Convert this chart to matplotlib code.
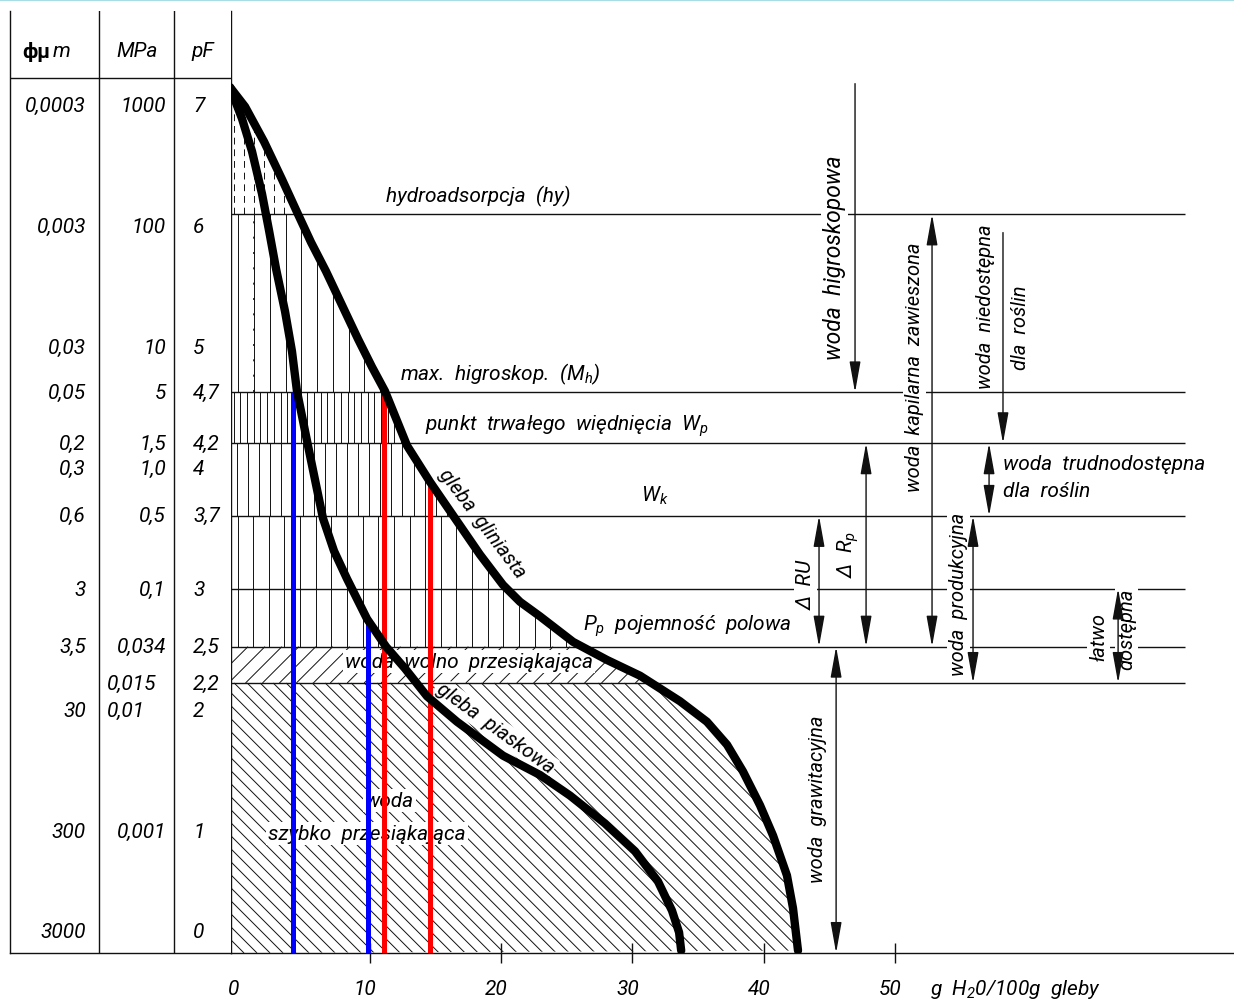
import numpy as np
import matplotlib.pyplot as plt
from matplotlib.patches import Polygon, FancyArrowPatch
from matplotlib.collections import LineCollection
from matplotlib.lines import Line2D
from matplotlib.transforms import ScaledTranslation

FONT = ['Roboto', 'DejaVu Sans']
plt.rcParams['font.family'] = FONT
plt.rcParams['font.style'] = 'italic'
plt.rcParams['mathtext.fontset'] = 'custom'
plt.rcParams['mathtext.it'] = 'Roboto:italic'
plt.rcParams['mathtext.rm'] = 'Roboto:italic'

# ---- dane: krzywe pF (x = g H2O / 100 g gleby) ----
clay_x = [-0.62, 0.52, 1.97, 3.33, 4.47, 5.54, 6.68, 7.90, 9.12, 10.18, 11.17,
          12.85, 14.60, 16.88, 18.40, 20.15, 21.45, 22.97, 25.48, 28.07, 30.58,
          31.88, 33.61, 35.67, 37.20, 38.41, 39.71, 40.70, 41.76, 42.22, 42.60]
clay_pf = [7.15, 6.99, 6.70, 6.39, 6.12, 5.87, 5.63, 5.35, 5.07, 4.84, 4.64,
           4.19, 3.89, 3.53, 3.29, 3.04, 2.90, 2.78, 2.57, 2.42, 2.29,
           2.20, 2.08, 1.91, 1.72, 1.50, 1.22, 0.97, 0.64, 0.37, 0.02]
sand_x = [-0.62, 0.29, 1.05, 1.81, 2.34, 2.88, 3.56, 4.09, 4.47, 5.46, 6.45,
          7.29, 8.28, 9.80, 11.25, 12.69, 14.37, 16.65, 20.15, 22.97, 25.25,
          27.91, 30.20, 31.95, 33.01, 33.55, 33.71]
sand_pf = [7.15, 6.89, 6.62, 6.27, 5.97, 5.65, 5.30, 4.97, 4.64, 4.11, 3.59,
           3.32, 3.09, 2.76, 2.53, 2.35, 2.12, 1.91, 1.63, 1.47, 1.30,
           1.07, 0.84, 0.59, 0.35, 0.17, 0.02]

# poziomy charakterystyczne (pF, jak narysowane)
lvl_hy, lvl_mh, lvl_wp, lvl_wk, lvl_3, lvl_pp, lvl_22 = 6.10, 4.63, 4.21, 3.61, 3.01, 2.53, 2.23

# odczyty wilgotności
blue_x = [4.2, 9.9]
blue_top = [4.63, 2.76]
red_x = [11.1, 14.6]
red_top = [4.63, 3.89]

# tabela po lewej
row_pf = [7, 6, 5, 4.63, 4.21, 4, 3.61, 3.0, 2.53, 2.23, 2, 1, 0.18]
phi_labels = ['0,0003', '0,003', '0,03', '0,05', '0,2', '0,3', '0,6', '3', '3,5', '', '30', '300', '3000']
mpa_labels = ['1000', '100', '10', '5', '1,5', '1,0', '0,5', '0,1', '0,034', '0,015', '0,01', '0,001', '']
pf_labels = ['7', '6', '5', '4,7', '4,2', '4', '3,7', '3', '2,5', '2,2', '2', '1', '0']

# strzałki wymiarowe: x, od, do, obustronna
arr_x = [46.94, 52.80, 58.20, 57.14, 44.20, 47.78, 45.50, 55.92, 66.96]
arr_from = [7.18, 6.10, 5.95, 4.21, 3.61, 4.21, 2.53, 3.61, 3.01]
arr_to = [4.63, 2.53, 4.21, 3.61, 2.53, 2.53, 0.0, 2.23, 2.23]
arr_both = [False, True, False, True, True, True, True, True, True]

# ---- układ ----
W, H = 1234, 1003
X0, X1 = -0.55, 75.78
Y0, Y1 = 0.0, 7.78
AX_B, AX_H = 49 / H, 942 / H

fig = plt.figure(figsize=(W / 100, H / 100), dpi=100)
ax = fig.add_axes([231 / W, AX_B, (W - 231) / W, AX_H])
tab = fig.add_axes([10 / W, AX_B, 221 / W, AX_H], sharey=ax)
ax.set_xlim(X0, X1)
ax.set_ylim(Y0, Y1)
tab.set_xlim(0, 1)

FS = 14.5
ink = '#111111'

for a in (ax, tab):
    for s in ('top', 'right'):
        a.spines[s].set_visible(False)
    for s in ('left', 'bottom'):
        a.spines[s].set_linewidth(1.0)
        a.spines[s].set_color(ink)

# osie główne
ax.set_yticks([1, 2, 3, 4, 5, 6, 7])
ax.tick_params(axis='y', direction='out', length=10, width=1, labelleft=False, color=ink)
ax.set_xticks([0, 10, 20, 30, 40, 50])
ax.set_xticklabels(['0', '10', '20', '30', '40', '50'], fontsize=15)
ax.tick_params(axis='x', direction='inout', length=14, width=1, pad=12, color=ink)
ax.xaxis.get_major_ticks()[0].tick1line.set_visible(False)
shift = ScaledTranslation(-0.05, 0, fig.dpi_scale_trans)
for t in ax.get_xticklabels():
    t.set_transform(t.get_transform() + shift)
ax.text(52.65, -0.29, 'g  H$_2$0/100g  gleby', fontsize=15, va='center', ha='left', clip_on=False)

# tabela
tab.set_xticks([])
tab.tick_params(axis='y', left=False, labelleft=False)
tab.axvline(0.403, color=ink, lw=1.0)
tab.axvline(0.742, color=ink, lw=1.0)
tab.axhline(7.23, color=ink, lw=1.0)
tab.text(0.055, 7.45, 'ϕμ', fontsize=15, fontweight='bold', fontstyle='normal', va='center', ha='left')
tab.text(0.195, 7.45, 'm', fontsize=15, va='center', ha='left')
tab.text(0.575, 7.45, 'MPa', fontsize=15, va='center', ha='center')
tab.text(0.87, 7.45, 'pF', fontsize=15, va='center', ha='center')
for yv, p, m, f in zip(row_pf, phi_labels, mpa_labels, pf_labels):
    tab.text(0.344, yv, p, fontsize=15, va='center', ha='right')
    if m in ('0,015', '0,01'):
        tab.text(0.439, yv, m, fontsize=15, va='center', ha='left')
    else:
        tab.text(0.706, yv, m, fontsize=15, va='center', ha='right')
    tab.text(0.828, yv, f, fontsize=15, va='center', ha='left')

# ---- kreskowanie pod krzywą gleby gliniastej ----
clip = Polygon(np.column_stack([clay_x + [X0, X0], clay_pf + [0.0, clay_pf[0]]]),
               closed=True, facecolor='none', edgecolor='none', transform=ax.transData)
ax.add_patch(clip)
xmax = max(clay_x) + 1


def vhatch(ylo, yhi, step, ls='solid', x0=0.0):
    xs = np.arange(x0, xmax, step)
    lc = ax.vlines(xs, ylo, yhi, colors=ink, linewidth=0.7, linestyles=ls, zorder=1)
    lc.set_clip_path(clip)


kx = W * (W - 231) / W / (X1 - X0)
ky = H * AX_H / (Y1 - Y0)
ratio = ky / kx


def dhatch(ylo, yhi, step, forward):
    span = (yhi - ylo) * ratio
    cs = np.arange(X0 - span, xmax, step)
    if forward:
        segs = [[(c, ylo), (c + span, yhi)] for c in cs]
    else:
        segs = [[(c, yhi), (c + span, ylo)] for c in cs]
    lc = LineCollection(segs, colors=ink, linewidths=0.7, zorder=1)
    lc.set_clip_path(clip)
    ax.add_collection(lc)


vhatch(lvl_hy, 7.3, 0.76, ls=(0, (7, 5)), x0=-0.35)
vhatch(lvl_mh, lvl_hy, 1.2)
ax.vlines(1.2, lvl_mh, lvl_hy, colors=ink, linewidth=1.2, linestyles=(0, (1.2, 8)), zorder=1)
vhatch(lvl_wp, lvl_mh, 0.51, x0=-0.35)
vhatch(lvl_wk, lvl_wp, 0.84, x0=-0.1)
vhatch(lvl_pp, lvl_wk, 1.19, x0=-0.05)
dhatch(lvl_22, lvl_pp, 1.29, True)
dhatch(0.0, lvl_22, 0.99, False)

# ---- linie poziome ----
for lv, z in [(lvl_hy, 3), (lvl_mh, 3), (lvl_wk, 3), (lvl_3, 3), (lvl_pp, 3),
              (lvl_wp, 5), (lvl_22, 5)]:
    ax.hlines(lv, X0, 72.07, colors=ink, linewidth=1.0, zorder=z)

# ---- odczyty (kolorowe) i krzywe ----
ax.vlines(blue_x, 0, blue_top, colors='#0000ff', linewidth=3.6, zorder=6)
ax.vlines(red_x, 0, red_top, colors='#ff0000', linewidth=3.6, zorder=6)
ax.plot(clay_x, clay_pf, color='black', lw=6, solid_capstyle='round', solid_joinstyle='round', zorder=7)
ax.plot(sand_x, sand_pf, color='black', lw=6, solid_capstyle='round', solid_joinstyle='round', zorder=7)

# ---- strzałki ----
for x, a, b, both in zip(arr_x, arr_from, arr_to, arr_both):
    st = '<|-|>' if both else '-|>'
    ax.add_patch(FancyArrowPatch((x, a), (x, b), arrowstyle=st + ',head_length=0.95,head_width=0.17',
                                 mutation_scale=20, color=ink, lw=1.0, shrinkA=0, shrinkB=0, zorder=5))

# ---- opisy ----
wb = dict(facecolor='white', edgecolor='none', pad=1.5)


def lab(x, y, s, z=4, box=False, **kw):
    kw.setdefault('fontsize', FS)
    kw.setdefault('va', 'center')
    kw.setdefault('ha', 'left')
    ax.text(x, y, s, zorder=z, bbox=wb if box else None, **kw)


lab(11.24, 6.26, 'hydroadsorpcja  (hy)', fontsize=15)
lab(12.31, 4.79, 'max.  higroskop.  (M$_h$)', fontsize=15)
lab(14.21, 4.36, 'punkt  trwałego  więdnięcia  W$_p$', fontsize=15)
lab(30.65, 3.78, 'W$_k$', fontsize=15)
lab(26.24, 2.71, 'P$_p$  pojemność  polowa', fontsize=15)
lab(8.12, 2.41, 'woda  wolno  przesiąkająca', z=2, box=True, fontsize=15)
lab(9.65, 1.26, 'woda', z=2, box=True, fontsize=15)
lab(2.27, 0.99, 'szybko  przesiąkająca', z=2, box=True, fontsize=15)
lab(18.6, 3.55, 'gleba  gliniasta', z=2, box=True, rotation=-53, ha='center', rotation_mode='anchor')
lab(19.54, 1.86, 'gleba  piaskowa', z=2, box=True, rotation=-36, ha='center', rotation_mode='anchor')

lab(45.36, 5.75, 'woda  higroskopowa', box=True, rotation=90, ha='center', fontsize=16.5)
lab(51.5, 4.85, 'woda  kapilarna  zawieszona', box=True, rotation=90, ha='center')
lab(56.9, 5.35, 'woda  niedostępna', box=True, rotation=90, ha='center')
lab(59.55, 5.17, 'dla  roślin', box=True, rotation=90, ha='center')
lab(58.21, 4.04, 'woda  trudnodostępna', fontsize=15)
lab(58.21, 3.82, 'dla  roślin', fontsize=15)
lab(43.2, 3.05, 'Δ  RU', box=True, rotation=90, ha='center', fontsize=15)
lab(46.4, 3.30, 'Δ  R$_p$', box=True, rotation=90, ha='center', fontsize=15)
lab(54.78, 2.97, 'woda  produkcyjna', box=True, rotation=90, ha='center')
lab(65.5, 2.62, 'łatwo', box=True, rotation=90, ha='center')
lab(67.6, 2.68, 'dostępna', box=True, rotation=90, ha='center')
lab(44.1, 1.28, 'woda  grawitacyjna', box=True, rotation=90, ha='center')

fig.add_artist(Line2D([0, 1], [0.999, 0.999], color='#a8dde6', lw=1.5, transform=fig.transFigure))

fig.savefig('out.png', dpi=100)
